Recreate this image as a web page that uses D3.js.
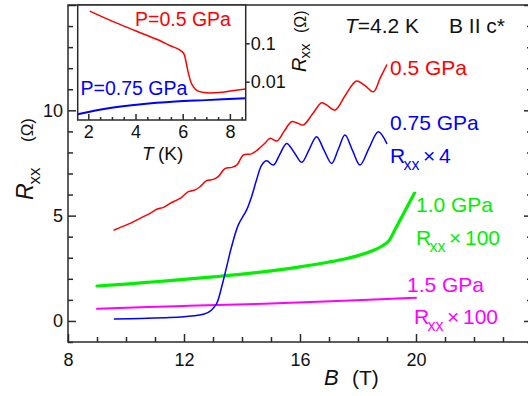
<!DOCTYPE html>
<html><head><meta charset="utf-8">
<script src="https://cdn.jsdelivr.net/npm/d3@7"></script>
<style>body{margin:0;background:#fff;} svg{display:block;font-family:Arial,"Liberation Sans",sans-serif;}</style>
</head><body><svg id="c" width="528" height="396"></svg>
<script>
// ---------- data ----------
const xMajorTicks = [8, 12, 16, 20, 24];
const xTickLabels = [8, 12, 16, 20];
const yMajorTicks = [0, 5, 10, 15];
const yTickLabels = [0, 5, 10];
const insetXTicks = [2, 4, 6, 8];
const insetYTicks = [0.01, 0.1];
const insetYTickLabels = ["0.01", "0.1"];

const red05B = [9.59,10.14,10.6,10.83,11.06,11.29,11.52,11.75,11.92,12.15,12.38,12.55,12.78,13.01,13.18,13.41,13.64,13.82,14.05,14.33,14.5,14.62,14.8,14.97,15.2,15.45,15.71,15.9,16.11,16.43,16.75,16.95,17.21,17.57,17.95,18.24,18.53,18.76,18.99];
const red05R = [4.32,4.63,4.95,5.11,5.3,5.39,5.58,5.74,5.87,6.14,6.22,6.37,6.66,6.72,6.85,7.23,7.29,7.4,7.88,7.93,8.08,8.22,8.45,8.67,8.54,9.0,9.46,9.4,9.3,9.82,10.36,10.22,10.01,10.73,11.39,11.17,10.88,11.52,12.15];

const blue075B = [9.6,10.5,11.5,12.0,12.55,12.8,12.95,13.13,13.3,13.47,13.64,13.87,14.16,14.33,14.5,14.68,14.85,15.08,15.3,15.54,15.8,16.06,16.32,16.57,16.83,17.09,17.32,17.55,17.81,18.07,18.38,18.7,18.99];
const blue075R = [0.09,0.12,0.16,0.2,0.28,0.38,0.52,0.84,1.62,2.57,3.52,4.55,5.27,5.9,6.69,7.4,7.6,7.4,7.9,8.43,8.0,7.53,8.15,8.75,8.1,7.48,8.15,8.83,8.1,7.4,8.2,8.98,8.43];

const green10B = [9.0,10,11,12,13,14,15,16,17,17.5,18,18.5,18.85,19.05,19.3,19.6,19.95];
const green10R = [1.66,1.75,1.86,1.97,2.09,2.22,2.38,2.57,2.8,2.93,3.1,3.33,3.57,3.78,4.4,5.17,6.07];

const mag15B = [9,12,14.76,17.06,19,20];
const mag15R = [0.58,0.71,0.82,0.94,1.04,1.1];

const insetRedT = [2.06,3.0,4.0,5.0,5.5,5.83,6.04,6.14,6.26,6.4,6.61,6.9,7.54,8.1,8.67];
const insetRedR = [0.69,0.38,0.213,0.12,0.085,0.070,0.055,0.033,0.0149,0.0082,0.0058,0.0052,0.0052,0.0058,0.0064];
const insetBlueT = [1.55,2.85,4.25,5.69,7.0,8.67];
const insetBlueR = [0.00142,0.00203,0.00258,0.00302,0.0033,0.0037];

// ---------- setup ----------
const svg = d3.select("#c");
const AX = "#2a2a2a";
const L = 68, T = 5, B = 342, R = 532;
const x = d3.scaleLinear().domain([8, 24]).range([L, R]);
const y = d3.scaleLinear().domain([-1, 15]).range([B, T]);

function styleAxis(g) {
  g.select(".domain").remove();
  g.selectAll("line").attr("stroke", AX).attr("stroke-width", 1.5);
  g.selectAll("text").attr("fill", "#111").attr("font-size", 18).attr("font-family", "Arial, 'Liberation Sans', sans-serif");
}
const fmtSome = labels => d => labels.includes(d) ? String(d) : "";

// minor ticks
const minorX = d3.range(8, 25, 1).filter(v => v % 4 !== 0);
const minorY = d3.range(-1, 16, 1).filter(v => v % 5 !== 0);
svg.append("g").attr("transform", `translate(0,${B})`)
  .call(d3.axisBottom(x).tickValues(minorX).tickSize(-5).tickFormat("")).call(styleAxis);
svg.append("g").attr("transform", `translate(${L},0)`)
  .call(d3.axisLeft(y).tickValues(minorY).tickSize(-5).tickFormat("")).call(styleAxis);
svg.append("g").attr("transform", `translate(${R},0)`)
  .call(d3.axisRight(y).tickValues(minorY).tickSize(-5).tickFormat("")).call(styleAxis);
// major ticks
svg.append("g").attr("transform", `translate(0,${B})`)
  .call(d3.axisBottom(x).tickValues(xMajorTicks).tickSize(-8).tickPadding(11).tickFormat(fmtSome(xTickLabels))).call(styleAxis);
svg.append("g").attr("transform", `translate(${L},0)`)
  .call(d3.axisLeft(y).tickValues(yMajorTicks).tickSize(-8).tickPadding(5).tickFormat(fmtSome(yTickLabels))).call(styleAxis);
svg.append("g").attr("transform", `translate(${R},0)`)
  .call(d3.axisRight(y).tickValues(yMajorTicks).tickSize(-8).tickFormat("")).call(styleAxis);

// frame
svg.append("rect").attr("x", L).attr("y", T).attr("width", R - L).attr("height", B - T)
  .attr("fill", "none").attr("stroke", AX).attr("stroke-width", 1.5);

// curves
const line = d3.line().x(d => x(d[0])).y(d => y(d[1])).curve(d3.curveCatmullRom.alpha(0.5));
function drawSeries(bs, rs, color, w) {
  svg.append("path").datum(bs.map((b, i) => [b, rs[i]]))
    .attr("d", line).attr("fill", "none").attr("stroke", color)
    .attr("stroke-width", w).attr("stroke-linejoin", "round").attr("stroke-linecap", "round");
}
drawSeries(mag15B, mag15R, "#ff00ff", 2);
drawSeries(green10B, green10R, "#00f000", 3.2);
drawSeries(red05B, red05R, "#ff0000", 1.5);
drawSeries(blue075B, blue075R, "#0000ff", 1.5);

// ---------- text ----------
function txt(xp, yp, s, color, size, opts = {}) {
  const t = svg.append("text").attr("x", xp).attr("y", yp).attr("fill", color).attr("font-size", size).text(s);
  if (opts.italic) t.attr("font-style", "italic");
  if (opts.anchor) t.attr("text-anchor", opts.anchor);
  return t;
}
function rxxLabel(x0, base, color, mult) {
  txt(x0, base, "R", color, 21);
  txt(x0 + 13.5, base + 7, "xx", color, 16);
  txt(x0 + 33, base, "\u00d7", color, 21);
  txt(x0 + 49, base, mult, color, 21);
}
const tl = svg.append("text").attr("x", 345).attr("y", 33).attr("font-size", 21).attr("fill", "#111");
tl.append("tspan").attr("font-style", "italic").text("T");
tl.append("tspan").text("=4.2 K");
txt(449, 33, "B II c*", "#111", 21);

txt(390, 75, "0.5 GPa", "#ff0000", 21);
txt(390, 130, "0.75 GPa", "#0000ff", 21);
rxxLabel(390, 163, "#0000ff", "4");
txt(416, 212, "1.0 GPa", "#00f000", 21);
rxxLabel(416, 245, "#00f000", "100");
txt(407, 292, "1.5 GPa", "#ff00ff", 21);
rxxLabel(414, 324, "#ff00ff", "100");

// axis titles
txt(324, 385, "B", "#111", 22, {italic: true});
txt(352, 385, "(T)", "#111", 21);
const yl = svg.append("g").attr("transform", "translate(33,200) rotate(-90)");
yl.append("text").attr("x", 0).attr("y", 0).attr("font-size", 23).attr("font-style", "italic").attr("fill", "#111").text("R");
yl.append("text").attr("x", 15.5).attr("y", 7).attr("font-size", 17).attr("fill", "#111").text("xx");
yl.append("text").attr("x", 58).attr("y", 0).attr("font-size", 17).attr("fill", "#111").text("(\u03a9)");

// ---------- inset ----------
const iL = 77.7, iT = 5, iR = 245.7, iB = 120;
const ix = d3.scaleLinear().domain([1.55, 8.67]).range([iL, iR]);
const iy = d3.scaleLog().domain([0.001, 1]).range([iB, iT]);
svg.append("rect").attr("x", iL).attr("y", iT).attr("width", iR - iL).attr("height", iB - iT).attr("fill", "#fff");
svg.append("clipPath").attr("id", "iclip").append("rect").attr("x", iL).attr("y", iT).attr("width", iR - iL).attr("height", iB - iT);

svg.append("g").attr("transform", `translate(0,${iB})`)
  .call(d3.axisBottom(ix).tickValues(d3.range(2, 8.6, 0.5).filter(v => v % 2 !== 0)).tickSize(-3).tickFormat("")).call(styleAxis);
svg.append("g").attr("transform", `translate(0,${iB})`)
  .call(d3.axisBottom(ix).tickValues(insetXTicks).tickSize(-6).tickPadding(5).tickFormat(d3.format("d"))).call(styleAxis);
svg.append("g").attr("transform", `translate(${iR},0)`)
  .call(d3.axisRight(iy).tickValues(insetYTicks).tickSize(4).tickPadding(1)
    .tickFormat((d, i) => insetYTickLabels[i])).call(styleAxis);

const iline = d3.line().x(d => ix(d[0])).y(d => iy(d[1])).curve(d3.curveCatmullRom.alpha(0.5));
const ig = svg.append("g").attr("clip-path", "url(#iclip)");
ig.append("path").datum(insetRedT.map((t, i) => [t, insetRedR[i]])).attr("d", iline)
  .attr("fill", "none").attr("stroke", "#ff0000").attr("stroke-width", 1.5);
ig.append("path").datum(insetBlueT.map((t, i) => [t, insetBlueR[i]])).attr("d", iline)
  .attr("fill", "none").attr("stroke", "#0000ff").attr("stroke-width", 2);

svg.append("rect").attr("x", iL).attr("y", iT).attr("width", iR - iL).attr("height", iB - iT)
  .attr("fill", "none").attr("stroke", AX).attr("stroke-width", 1.5);

txt(135, 26, "P=0.5 GPa", "#ff0000", 19.5);
txt(80.5, 94.5, "P=0.75 GPa", "#0000ff", 19.5);
txt(142, 159.5, "T", "#111", 19, {italic: true});
txt(158, 159.5, "(K)", "#111", 19);

const iyl = svg.append("g").attr("transform", "translate(306,72) rotate(-90)");
iyl.append("text").attr("x", 0).attr("y", 0).attr("font-size", 20).attr("font-style", "italic").attr("fill", "#111").text("R");
iyl.append("text").attr("x", 13.5).attr("y", 4).attr("font-size", 15).attr("fill", "#111").text("xx");
iyl.append("text").attr("x", 39).attr("y", 0).attr("font-size", 16).attr("fill", "#111").text("(\u03a9)");
</script></body></html>
